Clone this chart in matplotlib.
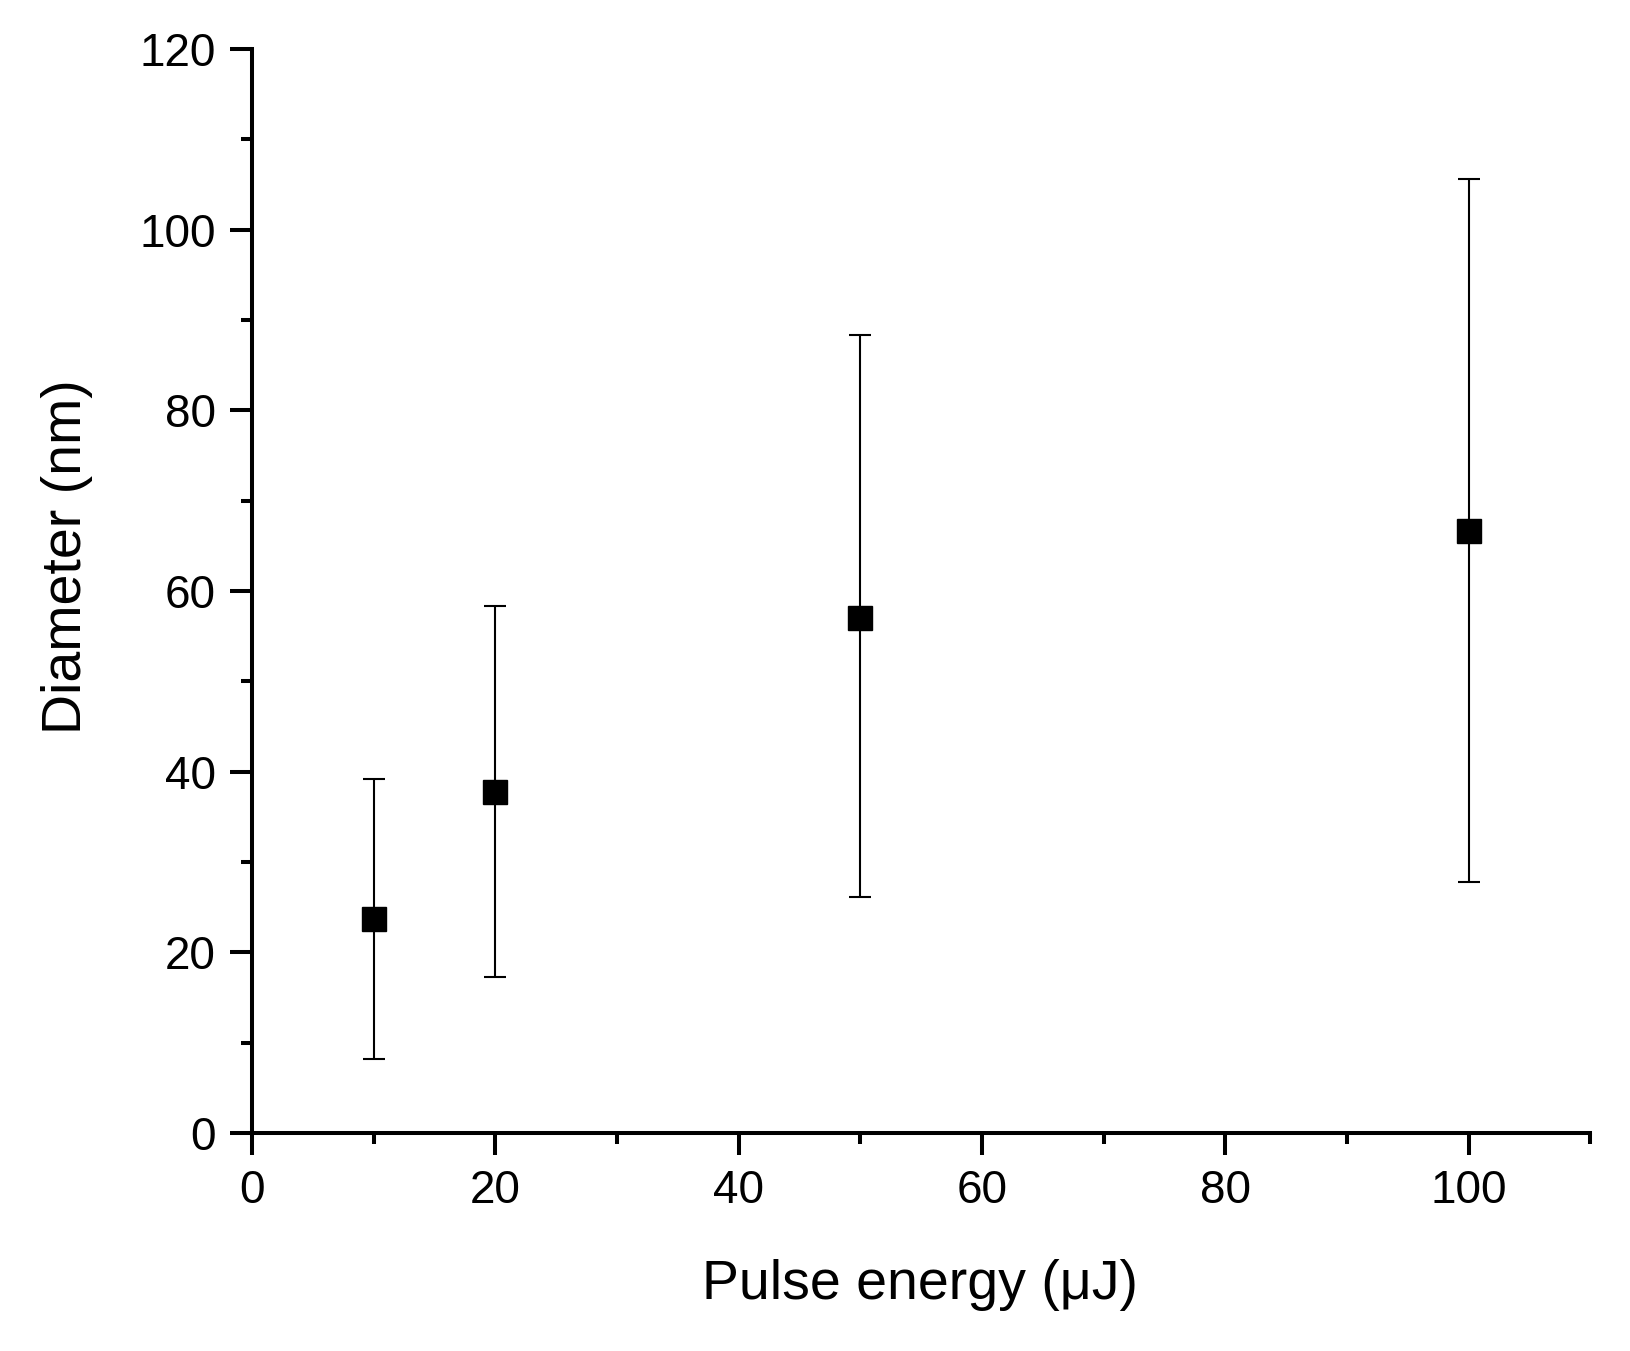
import matplotlib.pyplot as plt
from matplotlib.ticker import MultipleLocator

plt.rcParams['font.family'] = ['Liberation Sans', 'DejaVu Sans']

# Pulse energy vs particle diameter
energy = [10, 20, 50, 100]
diameter = [23.7, 37.7, 57.0, 66.6]
err_low = [8.2, 17.3, 26.1, 27.8]
err_high = [39.2, 58.3, 88.3, 105.6]

yerr = [[d - lo for d, lo in zip(diameter, err_low)],
        [hi - d for d, hi in zip(diameter, err_high)]]

fig = plt.figure(figsize=(16.31, 13.51), dpi=100)
ax = fig.add_axes([0.1545, 0.1614, 0.975 - 0.1545, 0.9637 - 0.1614])

ax.errorbar(energy, diameter, yerr=yerr, fmt='s', color='black',
            markersize=17, elinewidth=1.5, capsize=8, capthick=1.5)

ax.set_xlim(0, 110)
ax.set_ylim(0, 120)
ax.xaxis.set_major_locator(MultipleLocator(20))
ax.xaxis.set_minor_locator(MultipleLocator(10))
ax.yaxis.set_major_locator(MultipleLocator(20))
ax.yaxis.set_minor_locator(MultipleLocator(10))

for side in ['top', 'right']:
    ax.spines[side].set_visible(False)
for side in ['left', 'bottom']:
    ax.spines[side].set_linewidth(2.9)

ax.tick_params(which='major', direction='out', length=16, width=2.9,
               labelsize=33, pad=10)
ax.tick_params(which='minor', direction='out', length=8, width=2.9)

ax.set_xlabel("Pulse energy (\u03bcJ)", fontsize=40)
ax.set_ylabel("Diameter (nm)", fontsize=40)
ax.xaxis.set_label_coords(0.499, -0.14)
ax.xaxis.label.set_va('center')
ax.yaxis.set_label_coords(-0.138, 0.532)
ax.yaxis.label.set_va('center')

fig.savefig("out.png", dpi=100)
